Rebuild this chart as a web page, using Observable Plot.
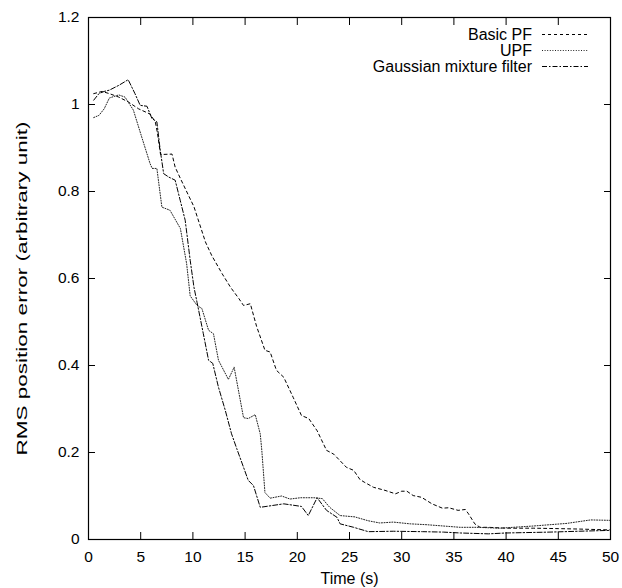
<!DOCTYPE html>
<html>
<head>
<meta charset="utf-8">
<script src="https://cdn.jsdelivr.net/npm/d3@7"></script>
<script src="https://cdn.jsdelivr.net/npm/@observablehq/plot@0.6"></script>
<style>
  html, body { margin: 0; padding: 0; background: #fff; }
  #chart { width: 622px; height: 588px; }
</style>
</head>
<body>
<div id="chart"></div>
<script>
const seriesNames = ["Basic PF", "UPF", "Gaussian mixture filter"];
const xTicks = [0, 5, 10, 15, 20, 25, 30, 35, 40, 45, 50];
const yTicks = [0, 0.2, 0.4, 0.6, 0.8, 1, 1.2];
const xLabel = "Time (s)";
const yLabel = "RMS position error (arbitrary unit)";

const basicT = [0.5,1.3,2.0,2.9,3.8,4.8,5.9,6.4,6.6,6.9,8.0,8.3,8.8,9.6,10.1,11.2,11.8,12.8,13.6,14.4,14.85,15.5,16.1,16.9,17.4,18.0,18.7,19.6,20.4,21.1,21.9,22.8,23.5,24.7,25.4,26.0,26.4,27.3,28.4,29.4,30.0,30.5,31.1,31.9,32.9,33.9,34.5,35.4,36.1,36.4,37.0,37.5,38.3,40,42.6,45,47,50];
const basicV = [1.025,1.03,1.025,1.017,1.006,0.99,0.978,0.96,0.935,0.885,0.886,0.856,0.83,0.79,0.765,0.684,0.653,0.611,0.58,0.554,0.538,0.542,0.49,0.435,0.431,0.389,0.373,0.327,0.285,0.278,0.25,0.205,0.196,0.166,0.159,0.138,0.132,0.12,0.113,0.105,0.111,0.111,0.101,0.097,0.082,0.072,0.073,0.067,0.069,0.059,0.036,0.028,0.028,0.026,0.026,0.025,0.024,0.022];

const upfT = [0.5,1.0,1.5,2.0,2.9,3.5,4.3,5.1,5.9,6.1,6.55,7.03,7.8,8.8,9.4,9.74,10.4,10.86,11.5,11.97,12.45,13.4,13.95,14.85,15.3,15.97,16.45,16.6,16.9,17.4,18.5,19.3,20.3,21.6,22.4,23.1,24.1,25.5,26.8,27.9,29.2,30.8,32.4,34.0,35.6,37.2,39.4,42.6,45.8,48.1,50];
const upfV = [0.97,0.975,0.99,1.015,1.022,1.017,0.987,0.925,0.864,0.853,0.853,0.764,0.757,0.715,0.634,0.56,0.538,0.531,0.481,0.473,0.412,0.368,0.396,0.28,0.278,0.287,0.243,0.205,0.108,0.095,0.1,0.093,0.096,0.096,0.094,0.074,0.055,0.052,0.043,0.038,0.040,0.036,0.034,0.031,0.028,0.028,0.026,0.031,0.037,0.045,0.044];

const gmT = [0.5,1.0,1.5,2.0,2.9,3.8,4.45,4.95,5.6,6.07,6.55,6.87,7.2,7.7,8.3,8.78,9.26,9.74,10.1,10.4,11.0,11.5,11.9,12.45,13.1,13.7,14.2,14.85,15.3,15.8,16.45,18.7,20.4,21.05,21.9,22.8,23.8,24.1,25.4,26.8,29.2,32,34,35.6,38.3,40,44.2,47,50];
const gmV = [1.01,1.025,1.03,1.033,1.044,1.057,1.025,0.998,0.996,0.968,0.96,0.895,0.841,0.833,0.826,0.78,0.734,0.642,0.58,0.545,0.473,0.412,0.405,0.35,0.297,0.243,0.209,0.166,0.136,0.124,0.074,0.082,0.076,0.055,0.096,0.067,0.051,0.036,0.028,0.018,0.019,0.018,0.017,0.015,0.013,0.015,0.017,0.019,0.021];

const styles = [
  {dash: "3,3", color: "#000"},
  {dash: "1,1.6", color: "#222"},
  {dash: "5,2,1.5,2", color: "#000"}
];

const toRows = (T, V) => T.map((t, i) => ({t, v: V[i]}));
const seriesData = [toRows(basicT, basicV), toRows(upfT, upfV), toRows(gmT, gmV)];

const font = "'Liberation Sans', Arial, Helvetica, sans-serif";

const chart = Plot.plot({
  width: 622,
  height: 588,
  marginLeft: 88,
  marginRight: 12,
  marginTop: 17,
  marginBottom: 49,
  style: {fontFamily: font, fontSize: "15.5px", color: "#000", background: "#fff"},
  x: {domain: [0, 50]},
  y: {domain: [0, 1.2]},
  marks: [
    ...seriesData.map((d, i) => Plot.line(d, {
      x: "t", y: "v", stroke: styles[i].color, strokeWidth: 1,
      strokeDasharray: styles[i].dash
    })),
    Plot.axisX({anchor: "bottom", ticks: xTicks, tickSize: -7, tickPadding: 18, label: null, fontSize: 15.5}),
    Plot.axisX({anchor: "top", ticks: xTicks, tickSize: -7, fill: "none", label: null}),
    Plot.axisY({anchor: "left", ticks: yTicks, tickSize: -7, tickPadding: 16, label: null,
      tickFormat: d3.format("~g"), fontSize: 15.5}),
    Plot.axisY({anchor: "right", ticks: yTicks, tickSize: -7, fill: "none", label: null}),
    Plot.frame({stroke: "#000", strokeWidth: 1.2}),
    Plot.text([xLabel], {frameAnchor: "bottom", dy: 39, text: d => d, fontSize: 16, lineAnchor: "middle"}),
    Plot.text([yLabel], {frameAnchor: "left", dx: -66, dy: 10, rotate: -90, text: d => d, fontSize: 15.5,
      textAnchor: "middle", lineAnchor: "middle", className: "ylabel"})
  ]
});

document.getElementById("chart").appendChild(chart);

const svg = d3.select(chart);
// The reference's rotated label is stretched along its length
svg.selectAll("g.ylabel text").attr("textLength", 334).attr("lengthAdjust", "spacingAndGlyphs");

// Legend (inside top-right of the frame)
const leg = svg.append("g").attr("font-family", font).attr("font-size", 16);
seriesNames.forEach((name, i) => {
  const yy = 34.5 + i * 16;
  leg.append("text").attr("x", 532).attr("y", yy).attr("dy", "0.35em")
    .attr("text-anchor", "end").attr("fill", "#000").text(name);
  leg.append("line").attr("x1", 542).attr("x2", 588).attr("y1", yy).attr("y2", yy)
    .attr("stroke", styles[i].color).attr("stroke-width", 1)
    .attr("stroke-dasharray", styles[i].dash);
});
</script>
</body>
</html>
